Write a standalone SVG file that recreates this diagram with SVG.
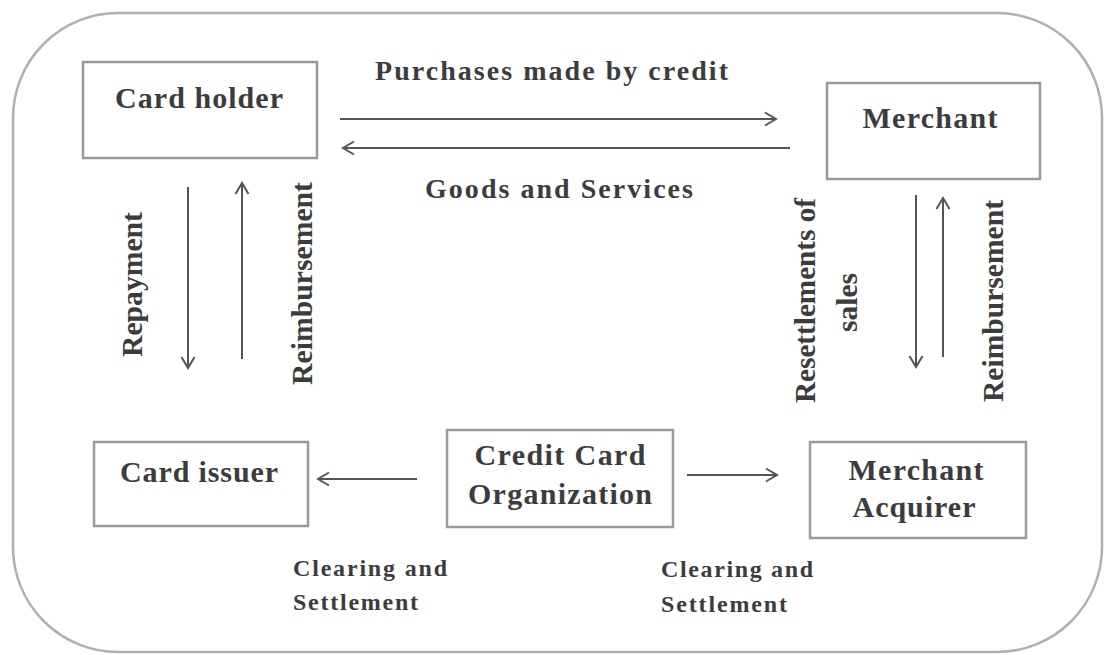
<svg xmlns="http://www.w3.org/2000/svg" width="1105" height="655" viewBox="0 0 1105 655">
  <style>
    .frame { fill: #ffffff; stroke: #b0b0b0; stroke-width: 2.5; }
    .box { fill: #ffffff; stroke: #9a9a9a; stroke-width: 2.5; }
    .lbl { font-family: "Liberation Serif", "Times New Roman", serif; font-weight: bold; fill: #3c3c3c; }
    .big { font-size: 30px; }
    .mid { font-size: 28px; }
    .vert { font-size: 30px; }
    .small { font-size: 24px; }
    .conn { stroke: #555555; stroke-width: 2; fill: none; marker-end: url(#arr); }
  </style>
  <defs>
    <marker id="arr" markerUnits="userSpaceOnUse" markerWidth="16" markerHeight="16" viewBox="0 0 16 16" refX="13" refY="8" orient="auto">
      <path d="M2,1.5 L13,8 L2,14.5" fill="none" stroke="#555555" stroke-width="2"/>
    </marker>
  </defs>
  <rect width="1105" height="655" fill="#ffffff"/>
  <rect class="frame" x="13" y="13" width="1089" height="639" rx="105" ry="105"/>

  <g id="card-holder">
    <rect class="box" x="83" y="62" width="234" height="96"/>
    <text class="lbl big" x="199" y="108" text-anchor="middle" textLength="168" lengthAdjust="spacing">Card holder</text>
  </g>
  <g id="merchant">
    <rect class="box" x="827" y="83" width="213" height="96"/>
    <text class="lbl big" x="930" y="128" text-anchor="middle" textLength="135" lengthAdjust="spacing">Merchant</text>
  </g>
  <g id="card-issuer">
    <rect class="box" x="94" y="442" width="214" height="84"/>
    <text class="lbl big" x="199" y="482" text-anchor="middle" textLength="158" lengthAdjust="spacing">Card issuer</text>
  </g>
  <g id="credit-card-organization">
    <rect class="box" x="447" y="430" width="226" height="97"/>
    <text class="lbl big" x="560" y="465" text-anchor="middle" textLength="171" lengthAdjust="spacing">Credit Card</text>
    <text class="lbl big" x="560" y="504" text-anchor="middle" textLength="184" lengthAdjust="spacing">Organization</text>
  </g>
  <g id="merchant-acquirer">
    <rect class="box" x="810" y="442" width="216" height="96"/>
    <text class="lbl big" x="916" y="480" text-anchor="middle" textLength="135" lengthAdjust="spacing">Merchant</text>
    <text class="lbl big" x="914" y="517" text-anchor="middle" textLength="123" lengthAdjust="spacing">Acquirer</text>
  </g>

  <g id="connectors">
    <line class="conn" x1="340" y1="119" x2="776" y2="119"/>
    <line class="conn" x1="790" y1="148" x2="343" y2="148"/>
    <line class="conn" x1="188" y1="187" x2="188" y2="368"/>
    <line class="conn" x1="242" y1="359" x2="242" y2="183"/>
    <line class="conn" x1="916" y1="195" x2="916" y2="367"/>
    <line class="conn" x1="943" y1="357" x2="943" y2="198"/>
    <line class="conn" x1="417" y1="479" x2="318" y2="479"/>
    <line class="conn" x1="687" y1="475" x2="777" y2="475"/>
  </g>

  <g id="labels">
    <text class="lbl mid" x="551.5" y="80" text-anchor="middle" textLength="353" lengthAdjust="spacing">Purchases made by credit</text>
    <text class="lbl mid" x="559" y="198" text-anchor="middle" textLength="268" lengthAdjust="spacing">Goods and Services</text>
    <text class="lbl vert" transform="translate(142,284.5) rotate(-90)" text-anchor="middle" textLength="145" lengthAdjust="spacingAndGlyphs">Repayment</text>
    <text class="lbl vert" transform="translate(312,283.5) rotate(-90)" text-anchor="middle" textLength="203" lengthAdjust="spacingAndGlyphs">Reimbursement</text>
    <text class="lbl vert" transform="translate(815,300.5) rotate(-90)" text-anchor="middle" textLength="205" lengthAdjust="spacingAndGlyphs">Resettlements of</text>
    <text class="lbl vert" transform="translate(857,302.5) rotate(-90)" text-anchor="middle" textLength="59" lengthAdjust="spacingAndGlyphs">sales</text>
    <text class="lbl vert" transform="translate(1003,301) rotate(-90)" text-anchor="middle" textLength="202" lengthAdjust="spacingAndGlyphs">Reimbursement</text>
    <text class="lbl small" x="293" y="576" textLength="154" lengthAdjust="spacing">Clearing and</text>
    <text class="lbl small" x="293" y="610" textLength="125" lengthAdjust="spacing">Settlement</text>
    <text class="lbl small" x="661" y="577" textLength="152" lengthAdjust="spacing">Clearing and</text>
    <text class="lbl small" x="661" y="612" textLength="126" lengthAdjust="spacing">Settlement</text>
  </g>
</svg>
